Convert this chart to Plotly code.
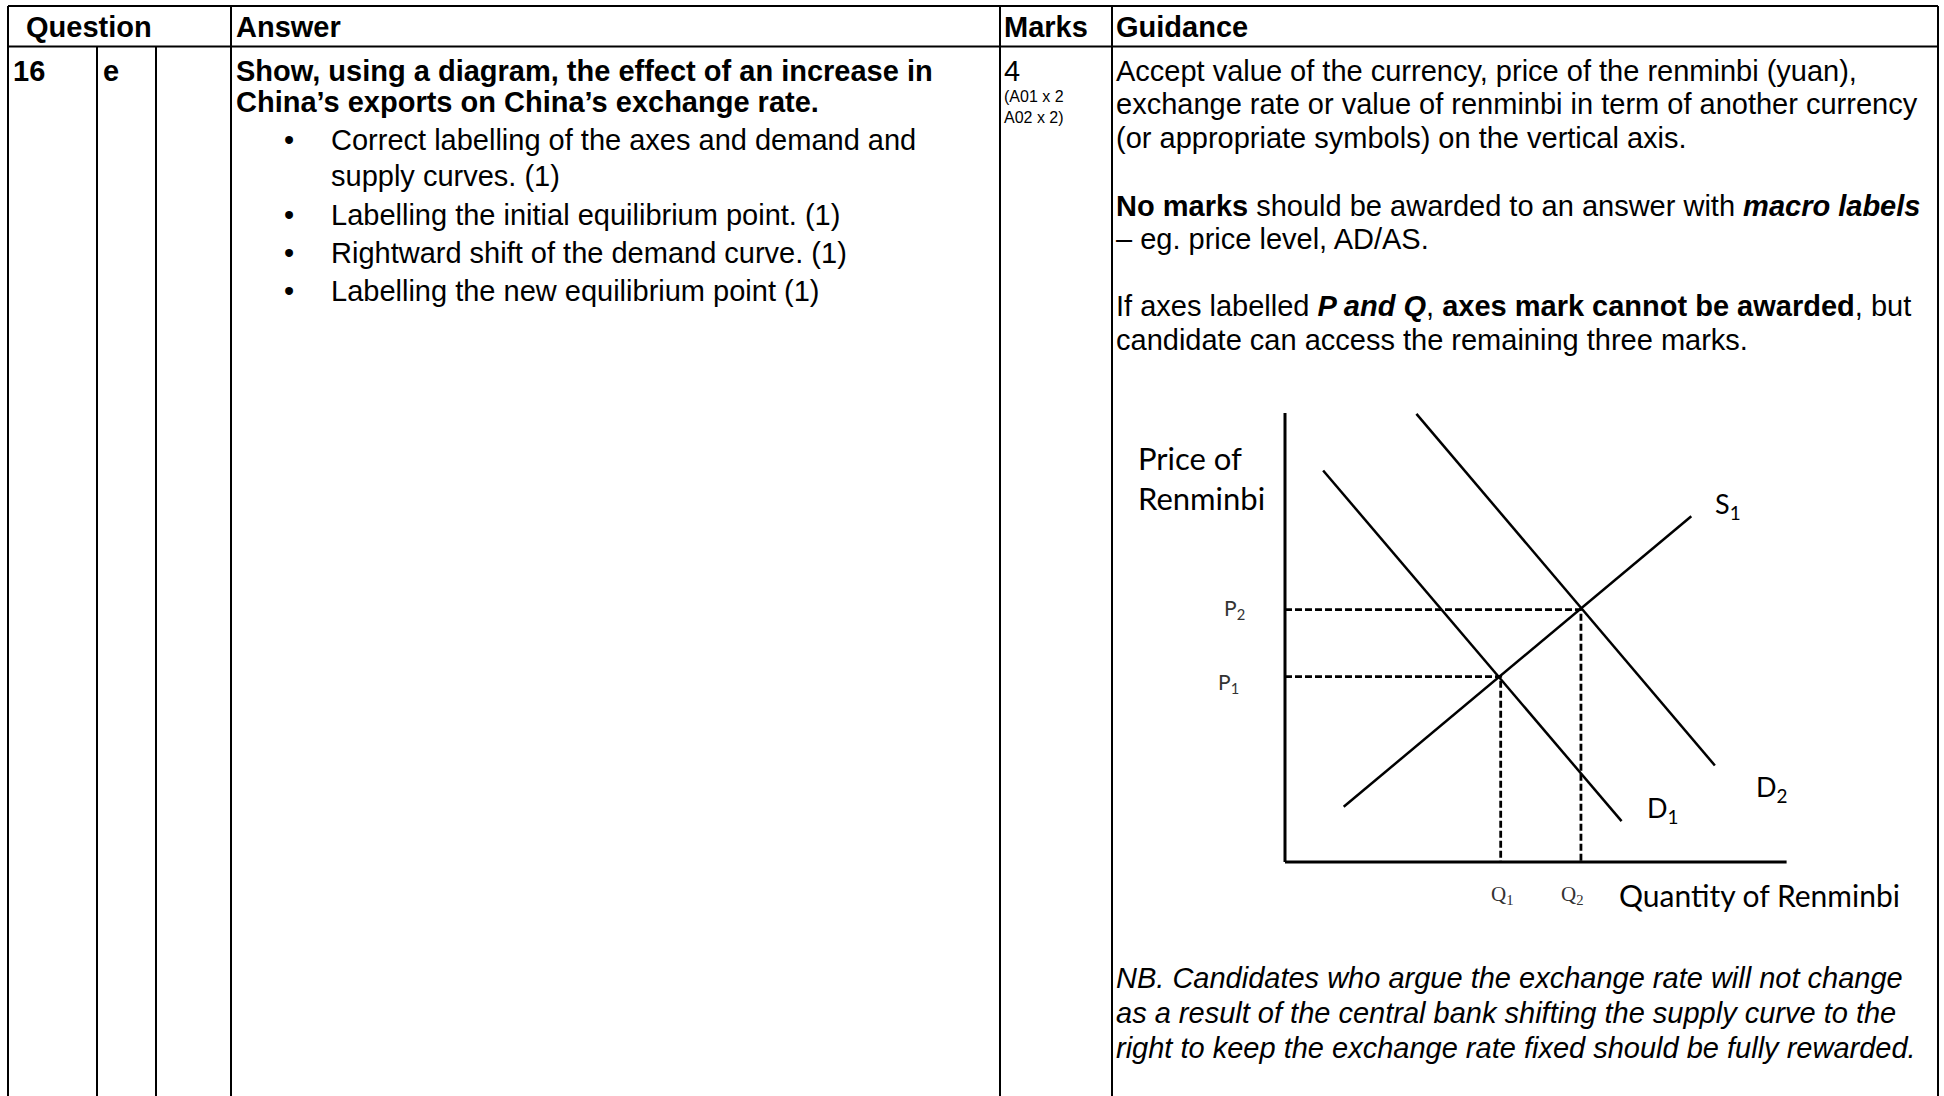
import plotly.graph_objects as go

W, H = 1944, 1096

# ---------------- data ----------------
header_labels = ["Question", "Answer", "Marks", "Guidance"]
question_number = "16"
question_part = "e"
answer_heading = [
    "Show, using a diagram, the effect of an increase in",
    "China’s exports on China’s exchange rate.",
]
answer_bullets = [
    ["Correct labelling of the axes and demand and", "supply curves. (1)"],
    ["Labelling the initial equilibrium point. (1)"],
    ["Rightward shift of the demand curve. (1)"],
    ["Labelling the new equilibrium point (1)"],
]
marks_total = "4"
marks_breakdown = ["(A01 x 2", "A02 x 2)"]
guidance_axis = [
    "Accept value of the currency, price of the renminbi (yuan),",
    "exchange rate or value of renminbi in term of another currency",
    "(or appropriate symbols) on the vertical axis.",
]
guidance_macro = [
    "<b>No marks</b> should be awarded to an answer with <b><i>macro labels</i></b>",
    "– eg. price level, AD/AS.",
]
guidance_pq = [
    "If axes labelled <b><i>P and Q</i></b>, <b>axes mark cannot be awarded</b>, but",
    "candidate can access the remaining three marks.",
]
guidance_nb = [
    "NB. Candidates who argue the exchange rate will not change",
    "as a result of the central bank shifting the supply curve to the",
    "right to keep the exchange rate fixed should be fully rewarded.",
]

# diagram (quantity on x, price on y, axes run 0..axis_max)
axis_max = 10
supply_q = [1.17, 8.10]
supply_p = [1.23, 7.70]
demand1_q = [0.76, 6.71]
demand1_p = [8.72, 0.91]
demand2_q = [2.62, 8.57]
demand2_p = [9.98, 2.15]
eq_q = [4.30, 5.90]
eq_p = [4.13, 5.62]
eq_price_labels = ["P<sub>1</sub>", "P<sub>2</sub>"]
eq_qty_labels = ["Q<sub>1</sub>", "Q<sub>2</sub>"]
curve_labels = ["S<sub>1</sub>", "D<sub>1</sub>", "D<sub>2</sub>"]
y_axis_title = ["Price of", "Renminbi"]
x_axis_title = "Quantity of Renminbi"

# ---------------- helpers ----------------
ARIAL = "Liberation Sans, Arial, sans-serif"
CALIBRI = "Lato, Carlito, Calibri, sans-serif"
SERIF = "Liberation Serif, serif"


def px_x(px):
    return px / W


def px_y(py):
    return 1 - py / H


anns = []


def label(px, py, text, size, family=ARIAL, xanchor="left", color="black"):
    anns.append(dict(
        x=px_x(px), y=px_y(py), xref="paper", yref="paper", text=text,
        showarrow=False, xanchor=xanchor, yanchor="middle", align="left",
        font=dict(family=family, size=size, color=color), borderpad=0,
    ))


shapes = []


def seg(x0, y0, x1, y1, width=2):
    shapes.append(dict(type="line", xref="paper", yref="paper",
                       x0=px_x(x0), y0=px_y(y0), x1=px_x(x1), y1=px_y(y1),
                       line=dict(color="black", width=width)))


# ---------------- table grid ----------------
top_y, head_y, bottom_y = 6, 46.5, 1100
left_x, right_x = 8, 1938
col_x = [97, 156, 231, 1000, 1112]
seg(left_x, top_y, right_x, top_y)
seg(left_x, head_y, right_x, head_y)
seg(left_x, top_y, left_x, bottom_y)
seg(right_x, top_y, right_x, bottom_y)
seg(col_x[0], head_y, col_x[0], bottom_y)
seg(col_x[1], head_y, col_x[1], bottom_y)
for cx in col_x[2:]:
    seg(cx, top_y, cx, bottom_y)

# ---------------- table text ----------------
FS = 29
head_pos = [25, 235, 1003, 1115]
for hx, t in zip(head_pos, header_labels):
    label(hx, 27, "<b>%s</b>" % t, FS)

label(12, 70.7, "<b>%s</b>" % question_number, FS)
label(102, 70.7, "<b>%s</b>" % question_part, FS)

for i, t in enumerate(answer_heading):
    label(235, 70.7 + 31 * i, "<b>%s</b>" % t, FS)

bullet_rows = [[140.1, 176.1], [214.5], [252.9], [291.4]]
for lines, ys in zip(answer_bullets, bullet_rows):
    label(289, ys[0], "•", FS, xanchor="center")
    for t, yy in zip(lines, ys):
        label(330, yy, t, FS)

label(1003, 70.7, marks_total, FS)
for t, yy in zip(marks_breakdown, [96.7, 117.8]):
    label(1003, yy, t, 16)

g_y = [70.7, 104.1, 137.6]
for t, yy in zip(guidance_axis, g_y):
    label(1115, yy, t, FS)
for t, yy in zip(guidance_macro, [205.8, 239.3]):
    label(1115, yy, t, FS)
for t, yy in zip(guidance_pq, [306.2, 339.7]):
    label(1115, yy, t, FS)
for t, yy in zip(guidance_nb, [978.2, 1012.9, 1047.6]):
    label(1115, yy, "<i>%s</i>" % t, FS)

# ---------------- diagram ----------------
origin_px = (1285.0, 862.0)
x_end_px = 1786.6
y_top_px = 413.0
pad = 0.5
ux = (x_end_px - origin_px[0]) / axis_max
uy = (origin_px[1] - y_top_px) / axis_max
xdom = [px_x(origin_px[0] - pad * ux), px_x(x_end_px + pad * ux)]
ydom = [px_y(origin_px[1] + pad * uy), px_y(y_top_px - pad * uy)]

fig = go.Figure()
line_style = dict(color="black", width=2.5)
for q, p in zip(eq_q, eq_p):
    fig.add_trace(go.Scatter(x=[0, q, q], y=[p, p, 0], mode="lines",
                             line=dict(color="black", width=2.8, dash="7px,3px"),
                             hoverinfo="skip"))
fig.add_trace(go.Scatter(x=[0, axis_max], y=[0, 0], mode="lines",
                         line=dict(color="black", width=3), hoverinfo="skip"))
fig.add_trace(go.Scatter(x=[0, 0], y=[0, axis_max], mode="lines",
                         line=dict(color="black", width=3), hoverinfo="skip"))
for xs, ys in [(supply_q, supply_p), (demand1_q, demand1_p), (demand2_q, demand2_p)]:
    fig.add_trace(go.Scatter(x=xs, y=ys, mode="lines", line=line_style,
                             hoverinfo="skip"))

# diagram labels
label(1137, 457.5, y_axis_title[0], 31, CALIBRI)
label(1137, 498.4, y_axis_title[1], 31, CALIBRI)
label(1714, 505, curve_labels[0], 27, CALIBRI)
label(1646, 809, curve_labels[1], 27, CALIBRI)
label(1755, 788, curve_labels[2], 27, CALIBRI)
label(1217, 683, eq_price_labels[0], 21, CALIBRI, color="#333333")
label(1223, 609, eq_price_labels[1], 21, CALIBRI, color="#333333")
label(1490, 895, eq_qty_labels[0], 21, SERIF, color="#333333")
label(1560, 895, eq_qty_labels[1], 21, SERIF, color="#333333")
label(1618, 895, x_axis_title, 30, CALIBRI)

fig.update_layout(
    width=W, height=H, margin=dict(l=0, r=0, t=0, b=0),
    paper_bgcolor="white", plot_bgcolor="rgba(0,0,0,0)",
    showlegend=False, hovermode=False,
    xaxis=dict(domain=xdom, range=[-pad, axis_max + pad], visible=False, fixedrange=True),
    yaxis=dict(domain=ydom, range=[-pad, axis_max + pad], visible=False, fixedrange=True),
    shapes=shapes, annotations=anns,
)

fig.write_html(
    "out.html",
    config={"displayModeBar": False, "staticPlot": True},
    post_script="document.body.style.margin='0';document.body.style.overflow='hidden';",
)
